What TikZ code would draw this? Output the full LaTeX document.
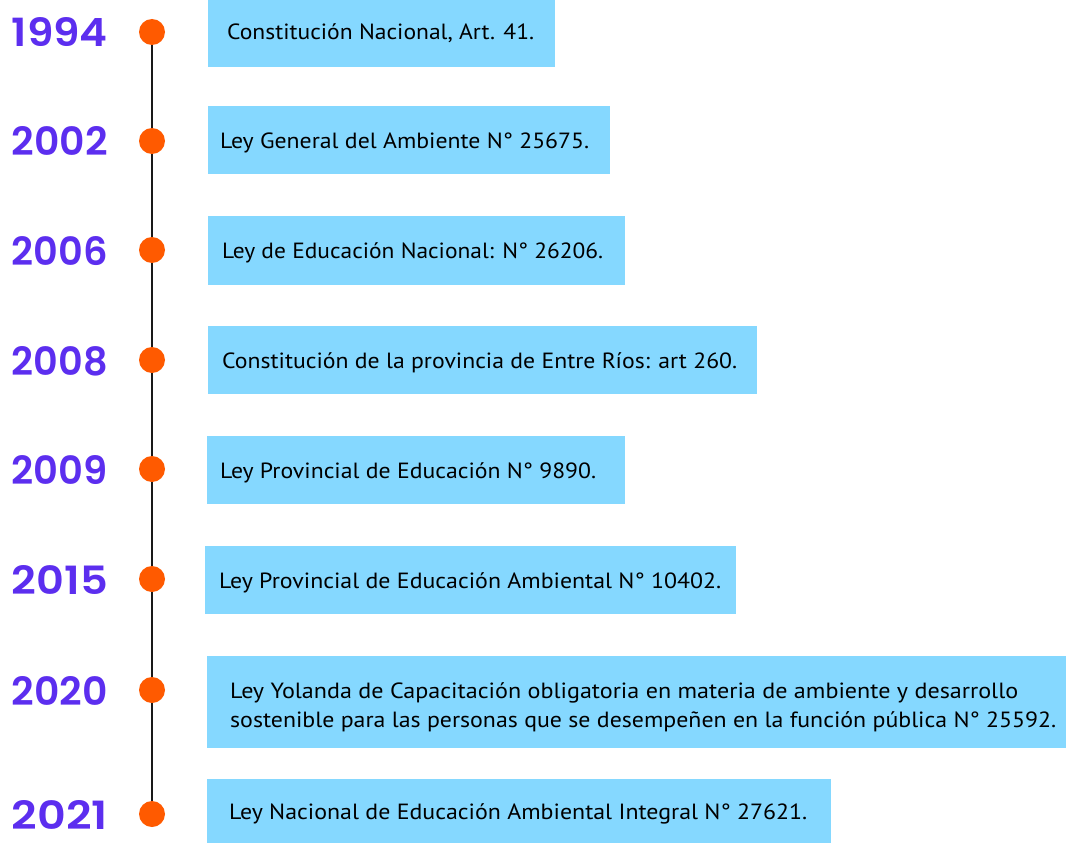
\documentclass[tikz,border=0pt]{standalone}
\usepackage{fontspec}
\usepackage{graphicx}
\usetikzlibrary{backgrounds}
\newfontfamily\txtfont{PT Sans}
\newfontfamily\yearfont{Poppins}[UprightFont=* SemiBold]
\definecolor{yearpurple}{HTML}{5C2EEF}
\definecolor{dotorange}{HTML}{FF5A00}
\definecolor{boxblue}{HTML}{85D8FF}
\newcommand{\yr}[1]{\resizebox{96pt}{29pt}{\yearfont #1}}
\newcommand{\tx}[2]{\resizebox{#1pt}{\height}{\txtfont\fontsize{22pt}{26pt}\selectfont #2}}
\begin{document}
\begin{tikzpicture}[x=1pt,y=-1pt,
  dotnode/.style={circle,fill=dotorange,minimum size=26pt,inner sep=0pt},
  yearnode/.style={anchor=base east,inner sep=0pt,text=yearpurple},
  boxnode/.style={fill=boxblue,inner sep=0pt,anchor=north west},
  txtnode/.style={anchor=base west,inner sep=0pt,text=black}]
\useasboundingbox (0,0) rectangle (1066,843);
% boxes
\node[boxnode,minimum width=347pt,minimum height=67pt] (b1) at (208,0) {};
\node[boxnode,minimum width=402pt,minimum height=68pt] (b2) at (208,106) {};
\node[boxnode,minimum width=417pt,minimum height=69pt] (b3) at (208,216) {};
\node[boxnode,minimum width=549pt,minimum height=68pt] (b4) at (208,326) {};
\node[boxnode,minimum width=418pt,minimum height=68pt] (b5) at (207,436) {};
\node[boxnode,minimum width=531pt,minimum height=68pt] (b6) at (205,546) {};
\node[boxnode,minimum width=859pt,minimum height=92pt] (b7) at (207,656) {};
\node[boxnode,minimum width=624pt,minimum height=64pt] (b8) at (207,779) {};
% texts
\node[txtnode] (t1) at (227,40) {\tx{307}{Constitución Nacional, Art. 41.}};
\node[txtnode] (t2) at (220,148) {\tx{369}{Ley General del Ambiente N° 25675.}};
\node[txtnode] (t3) at (222,258) {\tx{381}{Ley de Educación Nacional: N° 26206.}};
\node[txtnode] (t4) at (222,368) {\tx{515}{Constitución de la provincia de Entre Ríos: art 260.}};
\node[txtnode] (t5) at (220,478) {\tx{376}{Ley Provincial de Educación N° 9890.}};
\node[txtnode] (t6) at (219,588) {\tx{502}{Ley Provincial de Educación Ambiental N° 10402.}};
\node[txtnode] (t7a) at (230,698) {\tx{788}{Ley Yolanda de Capacitación obligatoria en materia de ambiente y desarrollo}};
\node[txtnode] (t7b) at (230,727) {\tx{826}{sostenible para las personas que se desempeñen en la función pública N° 25592.}};
\node[txtnode] (t8) at (229,819) {\tx{578}{Ley Nacional de Educación Ambiental Integral N° 27621.}};
% dots
\node[dotnode] (d1) at (152,32) {};
\node[dotnode] (d2) at (152,141) {};
\node[dotnode] (d3) at (152,250) {};
\node[dotnode] (d4) at (152,360) {};
\node[dotnode] (d5) at (152,469) {};
\node[dotnode] (d6) at (152,579) {};
\node[dotnode] (d7) at (152,690) {};
\node[dotnode] (d8) at (152,814) {};
\begin{pgfonlayer}{background}
\draw[line width=2pt,black!90] (d1.center) -- (d8.center);
\end{pgfonlayer}
% years
\node[yearnode] (y1) at (108,47) {\yr{1994}};
\node[yearnode] (y2) at (108,156) {\yr{2002}};
\node[yearnode] (y3) at (108,265) {\yr{2006}};
\node[yearnode] (y4) at (108,375) {\yr{2008}};
\node[yearnode] (y5) at (108,484) {\yr{2009}};
\node[yearnode] (y6) at (108,594) {\yr{2015}};
\node[yearnode] (y7) at (108,705) {\yr{2020}};
\node[yearnode] (y8) at (108,829) {\yr{2021}};
\end{tikzpicture}
\end{document}
